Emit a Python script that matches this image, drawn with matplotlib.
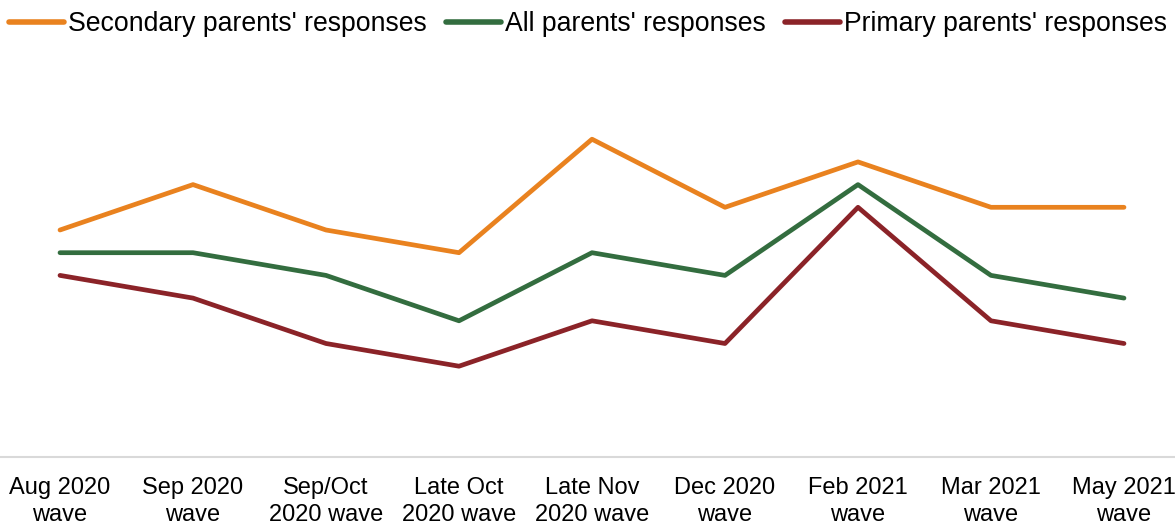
import matplotlib.pyplot as plt

waves = ["Aug 2020\nwave", "Sep 2020\nwave", "Sep/Oct\n2020 wave", "Late Oct\n2020 wave",
         "Late Nov\n2020 wave", "Dec 2020\nwave", "Feb 2021\nwave", "Mar 2021\nwave",
         "May 2021\nwave"]
secondary = [10, 12, 10, 9, 14, 11, 13, 11, 11]
all_parents = [9, 9, 8, 6, 9, 8, 12, 8, 7]
primary = [8, 7, 5, 4, 6, 5, 11, 6, 5]

plt.rcParams['font.family'] = ['Liberation Sans', 'DejaVu Sans']

W, H = 1175, 525
fig = plt.figure(figsize=(W / 100, H / 100), dpi=100)
ax_bottom = 457
ax_top = 48.4
ax = fig.add_axes([0, (H - ax_bottom) / H, 1, (ax_bottom - ax_top) / H])

x = list(range(len(waves)))
ax.plot(x, secondary, color='#E9821F', lw=3.4, label="Secondary parents' responses", solid_capstyle='round')
ax.plot(x, all_parents, color='#336D3F', lw=3.4, label="All parents' responses", solid_capstyle='round')
ax.plot(x, primary, color='#8B2328', lw=3.4, label="Primary parents' responses", solid_capstyle='round')

ax.set_xlim((0 - 60) / 133, (W - 60) / 133)
ax.set_ylim(0, 18)
ax.set_xticks(x)
ax.set_xticklabels(waves, fontsize=17, linespacing=1.27)
ax.tick_params(axis='x', length=0, pad=14.5)
ax.set_yticks([])
for s in ['top', 'left', 'right']:
    ax.spines[s].set_visible(False)
ax.spines['bottom'].set_color('#D9D9D9')
ax.spines['bottom'].set_linewidth(1.5)

leg = fig.legend(loc='upper left', bbox_to_anchor=(0.0, 0.996), ncol=3, frameon=False,
                 fontsize=19.2, handlelength=2.06, handletextpad=0.15, columnspacing=0.71,
                 borderaxespad=0.0, borderpad=0.35)
for line in leg.get_lines():
    line.set_linewidth(4)

fig.savefig('out.png', dpi=100)
